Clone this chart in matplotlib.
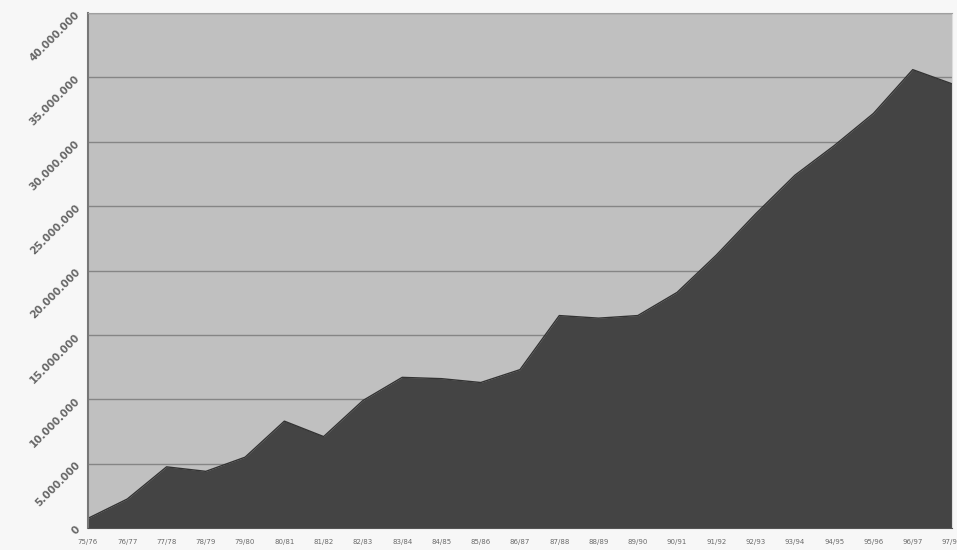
import matplotlib
matplotlib.use("Agg")
from matplotlib import pyplot as plt
from matplotlib.ticker import FuncFormatter
import numpy as np

# season labels and values
seasons = ["75/76", "76/77", "77/78", "78/79", "79/80", "80/81", "81/82", "82/83",
           "83/84", "84/85", "85/86", "86/87", "87/88", "88/89", "89/90", "90/91",
           "91/92", "92/93", "93/94", "94/95", "95/96", "96/97", "97/98"]
values = [0.75e6, 2.25e6, 4.75e6, 4.4e6, 5.5e6, 8.3e6, 7.1e6, 9.9e6,
          11.7e6, 11.6e6, 11.3e6, 12.3e6, 16.5e6, 16.3e6, 16.5e6, 18.3e6,
          21.2e6, 24.4e6, 27.4e6, 29.7e6, 32.2e6, 35.6e6, 34.5e6]
y_ticks = [0, 5e6, 10e6, 15e6, 20e6, 25e6, 30e6, 35e6, 40e6]


def dot_fmt(v, pos):  # 40.000.000 style
    return "{:,.0f}".format(v).replace(",", ".")


fig = plt.figure(figsize=(9.57, 5.5), dpi=100)
fig.patch.set_facecolor("#f7f7f7")
ax = fig.add_axes([88 / 957, 22 / 550, 864 / 957, 515 / 550])
ax.set_facecolor("#c0c0c0")

x = np.arange(len(seasons))
ax.fill_between(x, 0, values, color="#444444", zorder=3, linewidth=0)
ax.plot(x, values, color="#333333", lw=1, zorder=4)

ax.set_xlim(0, len(seasons) - 1)
ax.set_ylim(0, 40e6)
ax.set_yticks(y_ticks)
ax.yaxis.set_major_formatter(FuncFormatter(dot_fmt))
ax.set_xticks(x)
ax.set_xticklabels(seasons)
ax.grid(axis="y", color="#858585", lw=1, zorder=1)
ax.grid(axis="x", visible=False)

ax.tick_params(axis="x", length=0, pad=8, labelsize=5, labelcolor="#6a6a6a")
ax.tick_params(axis="y", length=0, pad=7, labelsize=7.5, labelcolor="#666666")
for lab in ax.get_yticklabels():
    lab.set_rotation(45)
    lab.set_rotation_mode("anchor")
    lab.set_ha("right")
    lab.set_va("center")
    lab.set_fontweight("bold")

ax.spines["left"].set_color("#777777")
ax.spines["left"].set_linewidth(1.5)
ax.spines["top"].set_color("#a0a0a0")
ax.spines["right"].set_color("#dddddd")
ax.spines["bottom"].set_color("#555555")
for s in ax.spines.values():
    s.set_zorder(5)

fig.savefig("out.png", dpi=100, facecolor=fig.get_facecolor())
